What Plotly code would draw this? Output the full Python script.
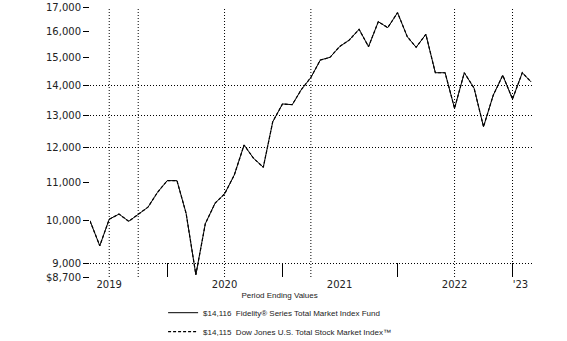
import pandas as pd
import plotly.graph_objects as go

# Month-end dates (fiscal period May 2019 start value through Feb 2023)
dates = pd.date_range("2019-04-30", periods=47, freq="ME")

fund_values = [
    10000, 9400, 10040, 10170, 9990, 10170, 10345, 10730, 11050, 11050,
    10190, 8750, 9930, 10450, 10690, 11206, 12072, 11681, 11422, 12789,
    13365, 13342, 13838, 14273, 14904, 15005, 15407, 15664, 16085, 15407,
    16391, 16150, 16762, 15793, 15383, 15886, 14442, 14442, 13222, 14442,
    13899, 12631, 13665, 14350, 13530, 14442, 14116,
]
index_values = fund_values[:-1] + [14115]

fund_name = "$14,116  Fidelity® Series Total Market Index Fund"
index_name = "$14,115  Dow Jones U.S. Total Stock Market Index™"

y_ticks = [8700, 9000, 10000, 11000, 12000, 13000, 14000, 15000, 16000, 17000]
y_ticktext = ["$8,700", "9,000", "10,000", "11,000", "12,000", "13,000",
              "14,000", "15,000", "16,000", "17,000"]
y_grid = [9000, 12000, 13000, 14000]

x_label_pos = ["2019-06-30", "2020-06-30", "2021-06-30", "2022-06-30", "2023-01-25"]
x_label_text = ["2019", "2020", "2021", "2022", "'23"]
x_year_ticks = ["2020-01-01", "2021-01-01", "2022-01-01", "2023-01-01"]
x_grid = ["2019-06-30", "2019-09-30", "2020-06-30", "2021-03-31", "2022-06-30", "2022-12-31"]

FONT = "DejaVu Sans"
DOT = "1px,2px"

fig = go.Figure()
fig.add_trace(go.Scatter(
    x=dates, y=index_values, mode="lines", name=index_name,
    line=dict(color="black", width=1.2, dash="3px,2px"),
))
fig.add_trace(go.Scatter(
    x=dates, y=fund_values, mode="lines", name=fund_name,
    line=dict(color="black", width=1),
))

for d in x_grid:
    fig.add_shape(type="line", xref="x", yref="paper", x0=d, x1=d, y0=0, y1=1,
                  line=dict(color="black", width=1, dash=DOT), layer="below")

fig.update_layout(
    width=567, height=341,
    margin=dict(l=90, r=34, t=7, b=64, autoexpand=False),
    paper_bgcolor="white", plot_bgcolor="white",
    font=dict(family=FONT, color="#222", size=10),
    showlegend=True,
    legend=dict(
        traceorder="reversed",
        x=0.165, xanchor="left", y=-0.04, yanchor="top",
        font=dict(family="Liberation Sans", size=8, color="#222"),
        title=dict(text="Period Ending Values", side="top center",
                   font=dict(family="Liberation Sans", size=8, color="#222")),
        bgcolor="rgba(0,0,0,0)", tracegroupgap=0,
    ),
    xaxis=dict(
        type="date", range=["2019-04-30", "2023-03-06"],
        tickmode="array", tickvals=x_label_pos, ticktext=x_label_text,
        ticks="", showgrid=False, showline=False, zeroline=False,
        tickfont=dict(family=FONT, size=10, color="#222"),
        minor=dict(tickmode="array", tickvals=x_year_ticks, ticks="inside",
                   ticklen=14, tickwidth=1, tickcolor="black", showgrid=False),
    ),
    yaxis=dict(
        type="log", range=[3.93952, 4.23045],
        tickmode="array", tickvals=y_ticks, ticktext=y_ticktext,
        ticks="outside", ticklen=6, tickwidth=1, tickcolor="black",
        showgrid=False, showline=False, zeroline=False,
        tickfont=dict(family=FONT, size=10, color="#222"),
        minor=dict(tickmode="array", tickvals=y_grid, ticks="", showgrid=True,
                   gridcolor="black", gridwidth=1, griddash=DOT),
    ),
)

fig.write_html("out.html")
